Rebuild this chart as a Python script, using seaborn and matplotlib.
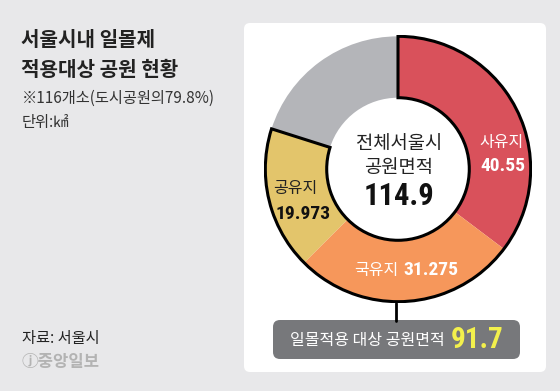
import matplotlib
matplotlib.use("Agg")
import matplotlib.pyplot as plt
import seaborn as sns
from matplotlib import font_manager
from matplotlib.patches import Wedge, FancyBboxPatch

# ---- data ----
categories = ["사유지", "국유지", "공유지", "기타"]
values = [40.55, 31.275, 19.973, 23.102]
value_labels = ["40.55", "31.275", "19.973"]
total_label = "114.9"
applied_label = "91.7"
colors = ["#d9515b", "#f6975b", "#e3c56b", "#b4b5b9"]

sns.set_theme(style="white")
KR = "Noto Sans CJK KR"
plt.rcParams["font.family"] = [KR, "DejaVu Sans"]

avail = {f.name for f in font_manager.fontManager.ttflist}
NUM = KR
for cand in ["Roboto Condensed", "Liberation Sans Narrow", "DejaVu Sans Condensed"]:
    if cand in avail:
        NUM = cand
        break

W, H = 560, 391
fig = plt.figure(figsize=(W / 100, H / 100), dpi=100)
fig.patch.set_facecolor("#e8e8ea")

# pixel-coordinate background axes
bg = fig.add_axes([0, 0, 1, 1])
bg.set_xlim(0, W)
bg.set_ylim(H, 0)
bg.axis("off")
bg.add_patch(FancyBboxPatch((244, 23), 302, 349, boxstyle="round,pad=0,rounding_size=6",
                            fc="white", ec="none", zorder=0))

# donut axes
cx, cy, R, r_in = 398, 169, 134, 72
ax = fig.add_axes([(cx - R) / W, 1 - (cy + R) / H, 2 * R / W, 2 * R / H])
ax.set_zorder(2)
ax.patch.set_alpha(0)
width = 1 - r_in / R
ax.pie(values, colors=colors, startangle=90, counterclock=False, radius=1,
       wedgeprops=dict(width=width, edgecolor="none"))
colored = sum(values[:3]) / sum(values) * 360
ax.add_patch(Wedge((0, 0), 1, 90 - colored + 360, 450, width=width, fill=False,
                   ec="black", lw=2.2, zorder=5))
ax.set_xlim(-1.01, 1.01)
ax.set_ylim(-1.01, 1.01)
ax.axis("off")

# overlay text axes (above donut)
tx = fig.add_axes([0, 0, 1, 1])
tx.set_zorder(3)
tx.patch.set_alpha(0)
tx.set_xlim(0, W)
tx.set_ylim(H, 0)
tx.axis("off")

# connector and bottom label box
tx.plot([396, 396], [cy + R, 321], color="black", lw=2)
tx.add_patch(FancyBboxPatch((273, 320), 247, 39, boxstyle="round,pad=0,rounding_size=7",
                            fc="#77787b", ec="none"))
tx.text(445, 341, "일몰적용 대상 공원면적", color="white", fontsize=11.5,
        ha="right", va="center", family=[KR])
tx.text(451, 340, applied_label, color="#f3f04c", fontsize=21, fontweight="bold",
        ha="left", va="center", family=[NUM, KR])

# left texts
tx.text(21, 40, "서울시내 일몰제", fontsize=14.5, fontweight="bold", ha="left", va="center",
        color="#222222")
tx.text(21, 69, "적용대상 공원 현황", fontsize=14.5, fontweight="bold", ha="left", va="center",
        color="#222222")
tx.text(22, 98, "※116개소(도시공원의79.8%)", fontsize=11, ha="left", va="center", color="#333333")
tx.text(22, 123, "단위:㎢", fontsize=11, ha="left", va="center", color="#333333")
tx.text(22, 338, "자료: 서울시", fontsize=11, ha="left", va="center", color="#222222")
tx.text(22, 362, "ⓙ중앙일보", fontsize=12, fontweight="bold", ha="left", va="center",
        color="#b3b3b3", family=[KR, "DejaVu Sans"])

# center texts
tx.text(399, 144, "전체서울시", fontsize=13.5, ha="center", va="center", color="#222222")
tx.text(399, 168, "공원면적", fontsize=13.5, ha="center", va="center", color="#222222")
tx.text(399, 196, total_label, fontsize=22, fontweight="bold", ha="center", va="center",
        color="#111111", family=[NUM, KR])

# segment labels
tx.text(502, 143, categories[0], fontsize=11.5, ha="center", va="center", color="white")
tx.text(503, 166, value_labels[0], fontsize=14, fontweight="bold", ha="center", va="center",
        color="white", family=[NUM, KR])
tx.text(398, 270, categories[1], fontsize=11.5, ha="right", va="center", color="white")
tx.text(403, 270, value_labels[1], fontsize=14, fontweight="bold", ha="left", va="center",
        color="white", family=[NUM, KR])
tx.text(295, 189, categories[2], fontsize=11.5, ha="center", va="center", color="#222222")
tx.text(303, 214, value_labels[2], fontsize=14, fontweight="bold", ha="center", va="center",
        color="#111111", family=[NUM, KR])

fig.savefig("out.png", dpi=100, facecolor=fig.get_facecolor())
